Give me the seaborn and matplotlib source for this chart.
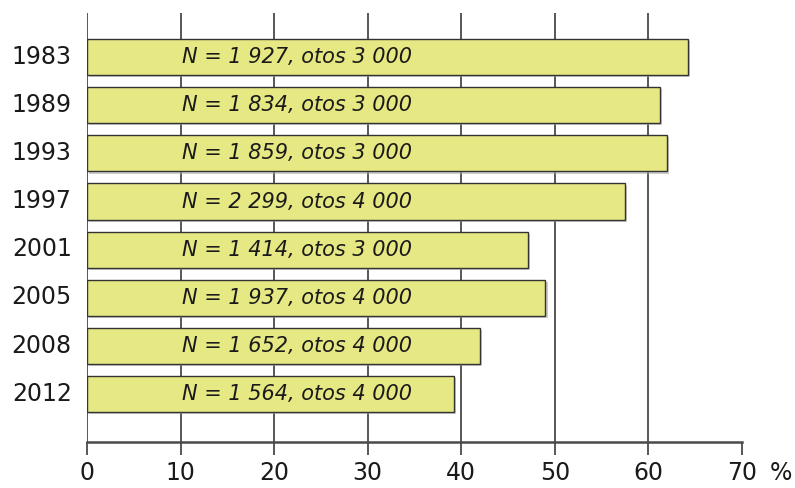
import matplotlib
matplotlib.use("Agg")
import matplotlib.pyplot as plt
import matplotlib.patheffects as pe
import matplotlib.transforms as mtransforms
import seaborn as sns
import pandas as pd

years = ["1983", "1989", "1993", "1997", "2001", "2005", "2008", "2012"]
values = [64.2, 61.2, 62.0, 57.5, 47.1, 49.0, 42.0, 39.25]
labels = ["N = 1 927, otos 3 000", "N = 1 834, otos 3 000", "N = 1 859, otos 3 000",
          "N = 2 299, otos 4 000", "N = 1 414, otos 3 000", "N = 1 937, otos 4 000",
          "N = 1 652, otos 4 000", "N = 1 564, otos 4 000"]
xticks = [0, 10, 20, 30, 40, 50, 60, 70]
xticklabels = ["0", "10", "20", "30", "40", "50", "60", "70"]
unit = "%"

sns.set_theme(style="white")
plt.rcParams['font.family'] = ['DejaVu Sans']

df = pd.DataFrame({"year": years, "value": values})

fig = plt.figure(figsize=(7.95, 4.88), dpi=100)
ax = fig.add_axes([0.1094, 0.0943, 0.8239, 0.8791])

sns.barplot(data=df, x="value", y="year", orient="h", color="#E6E883",
            saturation=1, width=0.75, edgecolor="#333333", linewidth=1.0, ax=ax)
for p in ax.patches:
    p.set_path_effects([pe.SimplePatchShadow(offset=(1.5, -1.5), shadow_rgbFace="#aaaaaa", alpha=0.6),
                        pe.Normal()])
    p.set_zorder(3)

for i, lab in enumerate(labels):
    ax.text(22.4, i, lab, ha="center", va="center", style="italic",
            fontsize=15, color="#1a1a1a", zorder=4)

ax.set_xlim(0, 70)
ax.set_ylim(8.0, -0.92)
ax.set_xticks(xticks)
ax.set_xticklabels(xticklabels)
ax.set_xlabel("")
ax.set_ylabel("")

ax.grid(axis="x", color="#4a4a4a", linewidth=1.3, zorder=0)
ax.grid(axis="y", visible=False)
ax.set_axisbelow(True)
gl = ax.xaxis.get_gridlines()
gl[-1].set_visible(False)

for s in ["top", "right", "left"]:
    ax.spines[s].set_visible(False)
ax.spines["bottom"].set_color("#4a4a4a")
ax.spines["bottom"].set_linewidth(1.8)

ax.tick_params(axis="x", bottom=True, length=9.5, width=1.3, color="#4a4a4a",
               labelsize=17, labelcolor="#1a1a1a", pad=4)
ax.tick_params(axis="y", left=False, length=0, labelsize=17, labelcolor="#1a1a1a", pad=11)
shift = mtransforms.ScaledTranslation(0, 2.0 / 72, fig.dpi_scale_trans)
for t in ax.get_yticklabels():
    t.set_transform(t.get_transform() + shift)

# unit sign after the last tick label
ax.annotate(unit, xy=(70, 0), xycoords=("data", "axes fraction"),
            xytext=(20, -22), textcoords="offset points",
            ha="left", va="center", fontsize=17, color="#1a1a1a", annotation_clip=False)

fig.savefig("out.png", dpi=100)
